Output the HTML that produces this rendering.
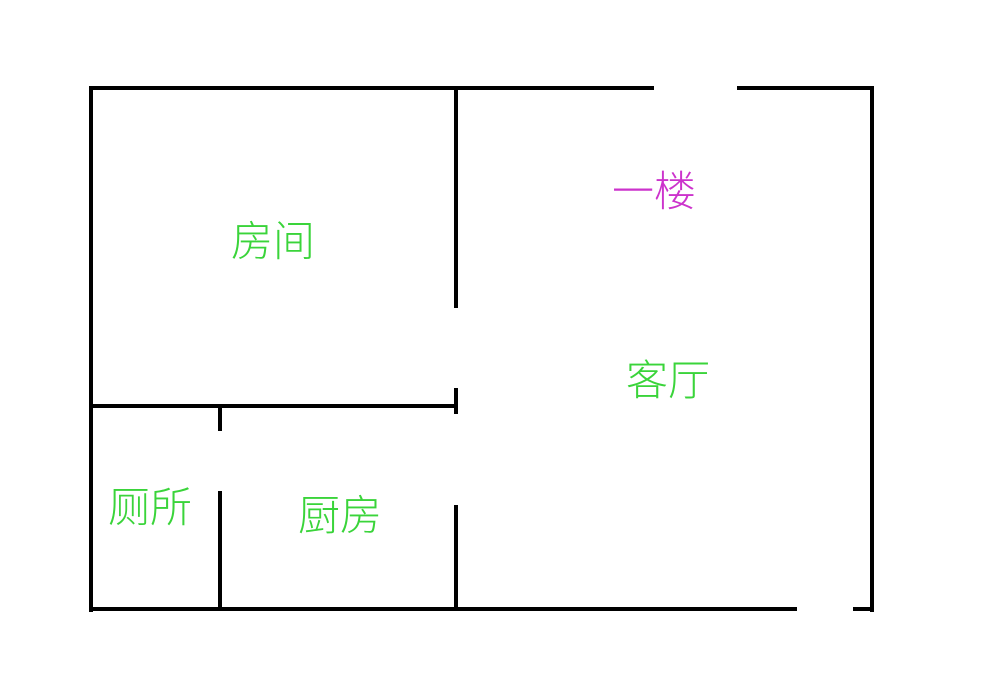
<!DOCTYPE html>
<html><head><meta charset="utf-8"><style>
body{margin:0;width:1000px;height:688px;background:#fff;overflow:hidden;position:relative}
.l{position:absolute;background:#000}
.t{position:absolute;font-family:"Liberation Sans","Noto Sans CJK SC",sans-serif;font-size:42px;line-height:42px;font-weight:300;color:#3ad43a;white-space:nowrap}
</style></head><body>
<div class="l" style="left:89px;top:86px;width:565px;height:4px"></div>
<div class="l" style="left:737px;top:86px;width:137px;height:4px"></div>
<div class="l" style="left:870px;top:86px;width:4px;height:526px"></div>
<div class="l" style="left:89px;top:86px;width:4px;height:526px"></div>
<div class="l" style="left:89px;top:607px;width:708px;height:4px"></div>
<div class="l" style="left:853px;top:607px;width:21px;height:4px"></div>
<div class="l" style="left:454px;top:86px;width:4px;height:222px"></div>
<div class="l" style="left:454px;top:388px;width:4px;height:26px"></div>
<div class="l" style="left:454px;top:505px;width:4px;height:105px"></div>
<div class="l" style="left:89px;top:404px;width:368px;height:4px"></div>
<div class="l" style="left:218px;top:406px;width:4px;height:25px"></div>
<div class="l" style="left:218px;top:491px;width:4px;height:119px"></div>
<div class="t" style="left:231px;top:221px">房间</div>
<div class="t" style="left:612px;top:171px;color:#cc33cc">一楼</div>
<div class="t" style="left:626px;top:360px">客厅</div>
<div class="t" style="left:108px;top:487px">厕所</div>
<div class="t" style="left:298px;top:495px">厨房</div>
</body></html>
